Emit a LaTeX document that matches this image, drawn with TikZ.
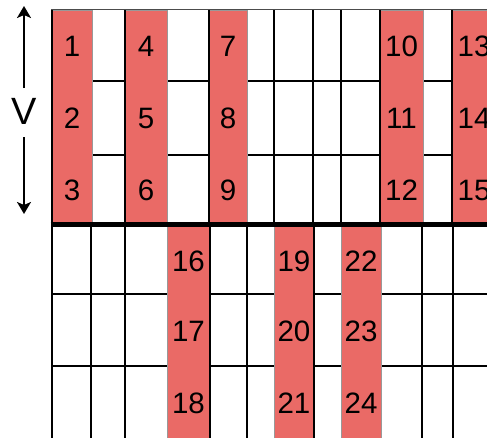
\documentclass[tikz,border=0pt]{standalone}
\usepackage{fontspec}
\setmainfont{Liberation Sans}
\usetikzlibrary{arrows.meta}
\definecolor{cellred}{RGB}{234,106,102}
\begin{document}
\begin{tikzpicture}[x=1pt,y=-1pt,
  gridline/.style={line width=2.6pt, black},
  redcol/.style={fill=cellred, draw=black!40, line width=0.6pt},
  num/.style={font=\fontsize{29.5}{30}\selectfont, inner sep=0pt},
  arr/.style={line width=2pt, -{Stealth[length=12pt,width=14pt,inset=3pt]}}]
\useasboundingbox (0,0) rectangle (487,438);
% horizontal grid lines
\draw[gridline] (52,81) -- (487,81) (52,155) -- (487,155);
\draw[gridline] (52,294) -- (487,294) (52,366) -- (487,366);
% red columns
\foreach \a/\b in {52/92,125/167,209/247,380/423,452/500}
  \path[redcol] (\a,10) rectangle (\b,225);
\foreach \a/\b in {167/210,274/314,341/381}
  \path[redcol] (\a,225) rectangle (\b,445);
% vertical grid lines
\foreach \x in {125,209,274,313,341,380,452}
  \draw[gridline] (\x,10) -- (\x,225);
\foreach \x in {91,125,210,247,314,422,453}
  \draw[gridline] (\x,225) -- (\x,445);
\draw[gridline] (52,10) -- (52,445);
% top border and thick divider
\draw[line width=1pt, black!70] (51,10) -- (490,10);
\draw[line width=5pt] (50.7,225) -- (490,225);
% numbers
\foreach \x [count=\c from 0] in {72,146,228,401.5,474}
  \foreach \y [count=\r from 1] in {46,118,190}
    {\pgfmathtruncatemacro\k{3*\c+\r}\node[num] (n\k) at (\x,\y) {\k};}
\foreach \x [count=\c from 0] in {188.5,294,361}
  \foreach \y [count=\r from 1] in {261,331,403}
    {\pgfmathtruncatemacro\k{15+3*\c+\r}\node[num] (n\k) at (\x,\y) {\k};}
% V arrow
\node[font=\fontsize{38}{38}\selectfont, inner sep=0pt] (v) at (24,111) {V};
\coordinate (vt) at (24,6);
\coordinate (vb) at (24,214);
\draw[arr, shorten <=9.5pt] (v.north) -- (vt);
\draw[arr, shorten <=13pt] (v.south) -- (vb);
\end{tikzpicture}
\end{document}
